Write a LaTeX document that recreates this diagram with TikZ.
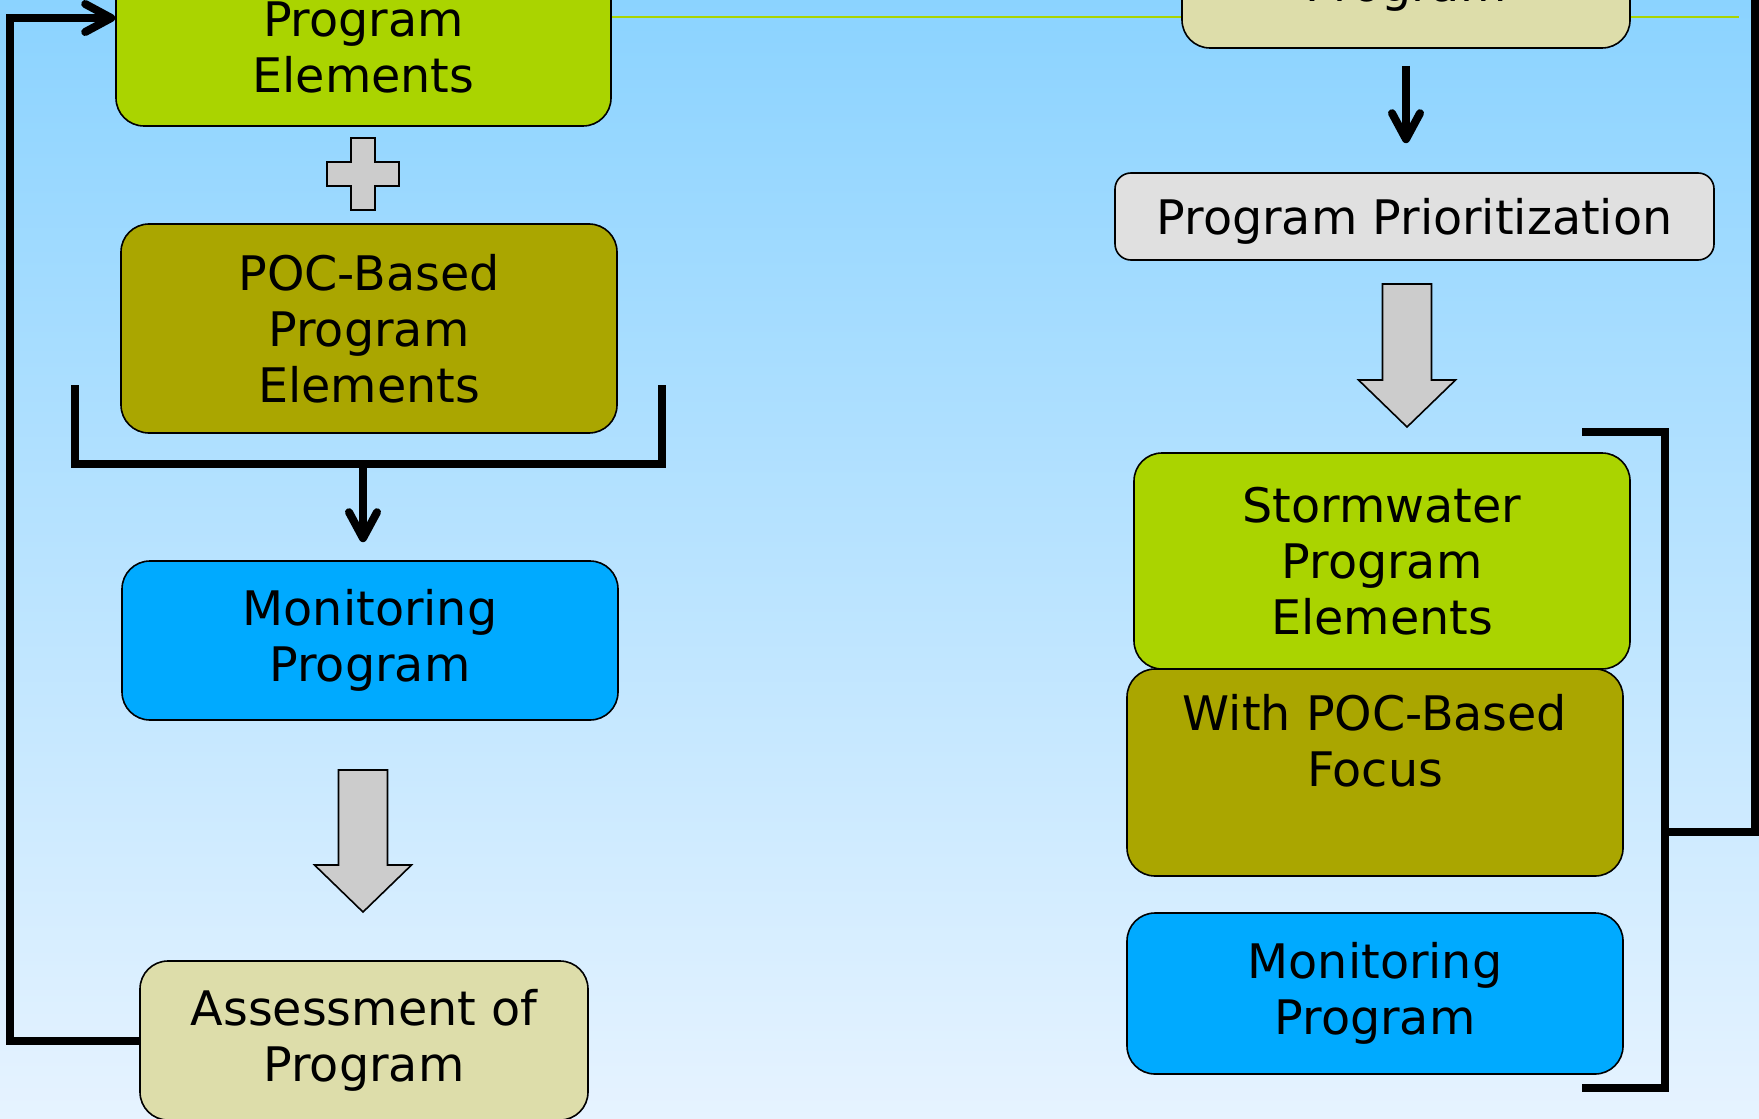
\documentclass[tikz,border=0pt]{standalone}
\usepackage{fontspec}
\setmainfont{DejaVu Sans}
\usetikzlibrary{arrows.meta,positioning}
\definecolor{progGreen}{RGB}{170,212,0}
\definecolor{pocOlive}{RGB}{170,166,0}
\definecolor{monBlue}{RGB}{0,170,255}
\definecolor{assessTan}{RGB}{221,221,170}
\definecolor{prioGrey}{RGB}{224,224,224}
\definecolor{blockGrey}{RGB}{204,204,204}
\definecolor{skyTop}{RGB}{139,211,255}
\definecolor{skyBottom}{RGB}{230,243,255}
\begin{document}
\begin{tikzpicture}[x=1pt,y=-1pt,
    box/.style={draw=black,line width=0.8pt,rounded corners=14pt,align=center,inner sep=0pt,font=\fontsize{23.8}{28}\selectfont},
    txt/.style={align=center,inner sep=0pt,font=\fontsize{23.8}{28}\selectfont},
    link/.style={draw=black,line width=4pt},
    flowarrow/.style={-{Straight Barb[length=13pt,width=14pt,round]}},
    blockarrow/.style={draw=black,line width=0.8pt,fill=blockGrey}]
%Background
\useasboundingbox (0,0) rectangle (879.5,559);
\shade[top color=skyTop,bottom color=skyBottom] (0,0) rectangle (879.5,559);
%Line across the top
\coordinate (lineEnd) at (869.5,8.5);
\draw[progGreen,line width=1.3pt] (305.5,8.5) -- (lineEnd);
%Rounded Rect (left column)
\node[box,fill=progGreen,minimum width=247.5pt,minimum height=108pt] (elemA) at (181.75,9) {};
% Text Node
\node[txt,above=16.5pt of elemA.south] (elemAtxt) {Program\\Elements};
%Shape: Cross
\draw[blockarrow] (175.5,69) -- (187.5,69) -- (187.5,81) -- (199.5,81) -- (199.5,93) -- (187.5,93) -- (187.5,105) -- (175.5,105) -- (175.5,93) -- (163.5,93) -- (163.5,81) -- (175.5,81) -- cycle;
%Rounded Rect
\node[box,fill=pocOlive,minimum width=248pt,minimum height=104.5pt,text depth=0pt] (pocA) at (184.5,164.25) {POC-Based\\Program\\Elements};
%Bracket
\coordinate (brkA) at (181.5,232);
\draw[link] (37.5,192.5) -- (37.5,232) -- (331,232) -- (331,192.5);
%Rounded Rect
\node[box,fill=monBlue,minimum width=248pt,minimum height=79.5pt] (monA) at (185,320.25) {Monitoring\\Program};
\draw[link,flowarrow,shorten >=9pt] (brkA) -- (brkA |- monA.north);
%Shape: Down Arrow
\draw[blockarrow] (169.25,385) -- (193.75,385) -- (193.75,432.5) -- (205.75,432.5) -- (181.5,456) -- (157.25,432.5) -- (169.25,432.5) -- cycle;
%Rounded Rect
\node[box,fill=assessTan,minimum width=224pt,minimum height=79.5pt] (assess) at (182,520.25) {Assessment of\\Program};
%Feedback loop
\draw[link,flowarrow] (assess.west) -- ++(-64.5,0) |- (elemA.west);
%Rounded Rect (right column)
\node[box,fill=assessTan,minimum width=224pt,minimum height=80pt] (asmtB) at (703,-16) {};
% Text Node
\node[txt,above=18.5pt of asmtB.south] (asmtBtxt) {Program};
%Rounded Rect
\node[box,rounded corners=8pt,fill=prioGrey,minimum width=299.5pt,minimum height=43.5pt,text depth=0pt] (prio) at (707.25,108.25) {Program Prioritization};
\draw[link,flowarrow,shorten <=8.5pt,shorten >=14.5pt] (asmtB.south) -- (asmtB.south |- prio.north);
%Shape: Down Arrow
\draw[blockarrow] (691.25,142) -- (715.75,142) -- (715.75,190) -- (727.75,190) -- (703.5,213.5) -- (679.25,190) -- (691.25,190) -- cycle;
%Rounded Rect
\node[box,fill=progGreen,minimum width=248pt,minimum height=108pt] (swB) at (691,280.5) {Stormwater\\Program\\Elements};
%Rounded Rect
\node[box,fill=pocOlive,minimum width=248pt,minimum height=103.5pt] (focus) at (687.5,386.25) {};
% Text Node
\node[txt,below=13pt of focus.north] (focustxt) {With POC-Based\\Focus};
%Rounded Rect
\node[box,fill=monBlue,minimum width=248pt,minimum height=80.5pt] (monB) at (687.5,496.75) {Monitoring\\Program};
%Bracket
\coordinate (brkB) at (834.5,416);
\coordinate (loopTop) at (877.5,-20);
\draw[link] (791,216) -- (832.5,216) -- (832.5,544) -- (791,544);
\draw[link] (brkB) -| (loopTop);
\end{tikzpicture}
\end{document}
